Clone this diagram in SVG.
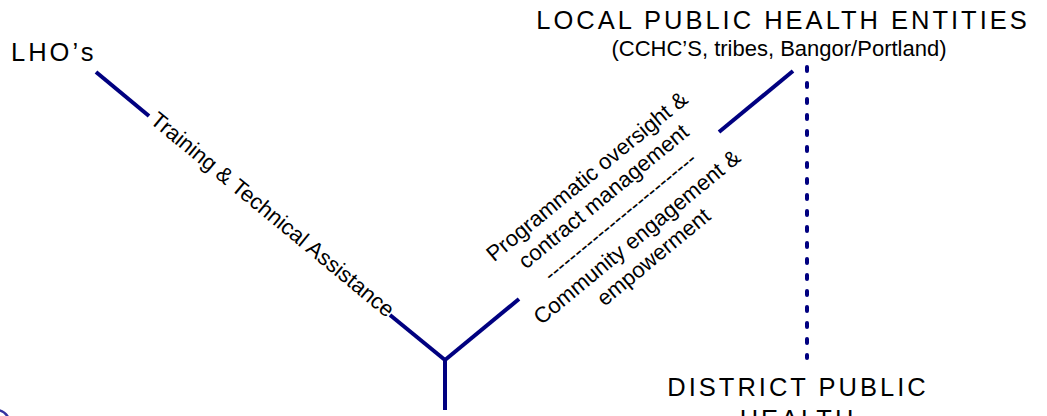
<svg xmlns="http://www.w3.org/2000/svg" width="1047" height="416" viewBox="0 0 1047 416">
<style>
.title{font-family:"Liberation Sans",Arial,sans-serif;font-size:25.5px;letter-spacing:3px;fill:#000}
.body{font-family:"Liberation Sans",Arial,sans-serif;font-size:22px;fill:#000}
.ln{stroke:#000080;stroke-width:4;fill:none}
.dot{stroke:#000080;stroke-width:4;fill:none;stroke-linecap:round;stroke-dasharray:4 12}
</style>
<rect width="1047" height="416" fill="#fff"/>
<g id="lhos"><text class="title" x="11" y="61">LHO’s</text></g>
<g id="local-public-health-entities">
<text class="title" x="783" y="29" text-anchor="middle">LOCAL PUBLIC HEALTH ENTITIES</text>
<text class="body" x="779" y="56" text-anchor="middle">(CCHC’S, tribes, Bangor/Portland)</text>
</g>
<g id="district-public-health">
<text class="title" x="798" y="396" text-anchor="middle">DISTRICT PUBLIC</text>
<text class="title" x="798" y="428" text-anchor="middle">HEALTH</text>
</g>
<g id="connectors">
<line class="ln" x1="96" y1="72" x2="149" y2="116"/>
<line class="ln" x1="390" y1="315" x2="445" y2="360"/>
<line class="ln" x1="445" y1="360" x2="519" y2="299"/>
<line class="ln" x1="445" y1="358" x2="445" y2="410"/>
<line class="ln" x1="719" y1="132" x2="793" y2="71"/>
<line class="dot" x1="807" y1="67" x2="807" y2="358"/>
<path d="M -3 410 Q 4 410.5 8 417" stroke="#3333a0" stroke-width="2.5" fill="none"/>
</g>
<g id="label-training"><text class="body" text-anchor="middle" transform="translate(271,216.4) rotate(39.5)" y="5">Training &amp; Technical Assistance</text></g>
<g id="label-roles" transform="translate(620,216.5) rotate(-39.5)">
<text class="body" text-anchor="middle" y="-44.6">Programmatic oversight &amp;</text>
<text class="body" text-anchor="middle" y="-18.6">contract management</text>
<text class="body" text-anchor="middle" y="7.4">--------------------------</text>
<text class="body" text-anchor="middle" y="34">Community engagement &amp;</text>
<text class="body" text-anchor="middle" y="60">empowerment</text>
</g>
</svg>
